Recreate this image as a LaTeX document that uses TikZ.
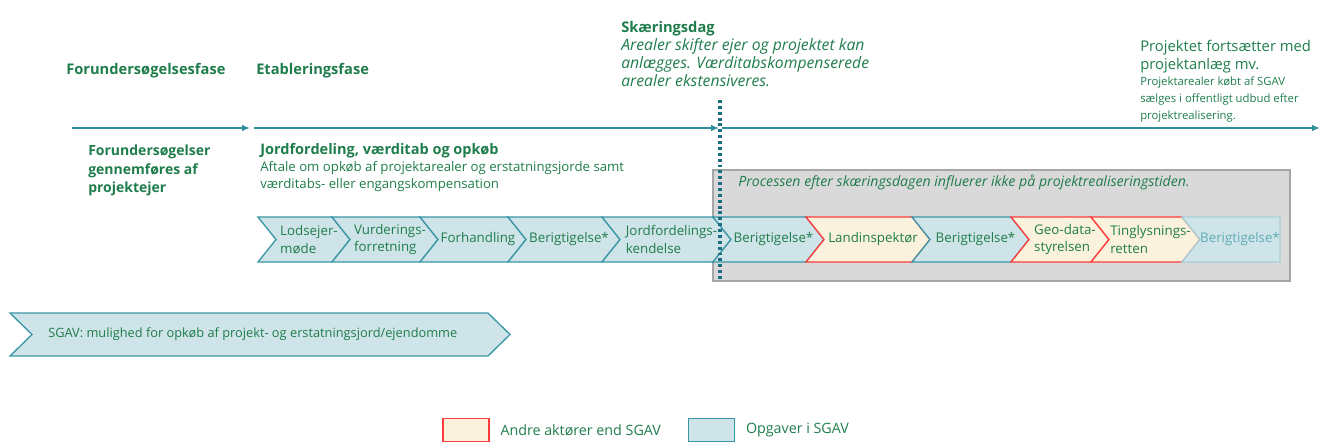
\documentclass[tikz,border=0pt]{standalone}
\usepackage{fontspec}
\setmainfont{Open Sans}
\usepackage{tikz}
\usetikzlibrary{arrows.meta, positioning}
\definecolor{PhaseGreen}{HTML}{1F7D4C}
\definecolor{LineTeal}{HTML}{2F8E9E}
\definecolor{CutTeal}{HTML}{1B6F82}
\definecolor{TaskFill}{HTML}{CFE4E8}
\definecolor{TaskDraw}{HTML}{3A97A6}
\definecolor{OtherDraw}{HTML}{FF3B3B}
\definecolor{OtherFill}{HTML}{FAF2DC}
\definecolor{BoxGray}{HTML}{D9D9D9}
\definecolor{BoxDraw}{HTML}{A6A6A6}
\tikzset{
  % Text styles
  phase/.style={anchor=west, inner sep=0pt, text=PhaseGreen, font=\fontsize{11}{13}\selectfont\bfseries},
  note/.style={anchor=north west, inner sep=0pt, align=left, text=PhaseGreen},
  tasktext/.style={inner sep=0pt, align=left, text=PhaseGreen, font=\fontsize{10}{13.2}\selectfont},
  % Shape styles
  taskchev/.style={draw=TaskDraw, fill=TaskFill, line width=1pt, line join=miter},
  otherchev/.style={draw=OtherDraw, fill=OtherFill, line width=1pt, line join=miter},
  fadechev/.style={draw=TaskDraw!45, fill=TaskFill, line width=1pt, line join=miter},
  legbox/.style={minimum width=34.5pt, minimum height=17.5pt, inner sep=0pt, line width=0.9pt},
  % Arrow styles
  timeline/.style={-{Latex[length=6pt,width=5pt]}, LineTeal, line width=1.1pt},
  cutline/.style={CutTeal, line width=2.4pt, dash pattern=on 2.2pt off 2.2pt}
}
% chevron: name, left x, tip x, shape style, text
\newcommand{\chev}[5]{%
  \draw[#4] (#2,217) -- (#3-18,217) -- (#3,239.5) -- (#3-18,262) -- (#2,262) -- (#2+18,239.5) -- cycle;
  \node[tasktext] (#1) at ({(#2+#3)/2+5},239.5) {#5};}
\begin{document}
\begin{tikzpicture}[x=0.75pt, y=-0.75pt]
  \useasboundingbox (0,0) rectangle (1320,442);

  % Phase headings
  \node[phase] (prephase) at (66,71) {Forundersøgelsesfase};
  \node[phase] (estphase) at (256,71) {Etableringsfase};

  % Timeline
  \coordinate (t0) at (72,128);
  \coordinate (t1) at (250,128);
  \coordinate (t2) at (254,128);
  \coordinate (t3) at (719,128);
  \coordinate (t4) at (722,128);
  \coordinate (t5) at (1320,128);
  \draw[timeline] (t0) -- (t1);
  \draw[timeline] (t2) -- (t3);
  \draw[timeline] (t4) -- (t5);

  % Skaeringsdag
  \node[note, font=\fontsize{11.8}{13.6}\selectfont] (cutday) at (621,21)
    {\textbf{\fontsize{11}{13.6}\selectfont Skæringsdag}\\
     \textit{Arealer skifter ejer og projektet kan}\\
     \textit{anlægges. Værditabskompenserede}\\
     \textit{arealer ekstensiveres.}};

  % Continuation
  \node[note, font=\fontsize{11.1}{13.6}\selectfont] (cont) at (1140,40)
    {Projektet fortsætter med\\projektanlæg mv.};
  \node[note, font=\fontsize{8.5}{12.7}\selectfont, below=2pt of cont.south west, anchor=north west] (contsub)
    {Projektarealer købt af SGAV\\sælges i offentligt udbud efter\\projektrealisering.};

  % Phase descriptions
  \node[note, font=\fontsize{10.5}{13.8}\selectfont\bfseries] (predesc) at (88,145)
    {Forundersøgelser\\gennemføres af\\projektejer};
  \node[note, font=\fontsize{10.9}{13}\selectfont\bfseries] (estdesc) at (260,143)
    {Jordfordeling, værditab og opkøb};
  \node[note, font=\fontsize{9.9}{12.8}\selectfont, below=2.5pt of estdesc.south west, anchor=north west] (estsub)
    {Aftale om opkøb af projektarealer og erstatningsjorde samt\\værditabs- eller engangskompensation};

  % Process after the cut-off day
  \draw[fill=BoxGray, draw=BoxDraw, line width=1pt] (713,170) rectangle (1290,281);
  \node[note, font=\fontsize{10.6}{12}\selectfont\itshape] (afternote) at (738,175)
    {Processen efter skæringsdagen influerer ikke på projektrealiseringstiden.};

  % Chevron row
  \chev{lods}{258}{350}{taskchev}{Lodsejer-\\møde}
  \chev{vurd}{332}{438}{taskchev}{Vurderings-\\forretning}
  \chev{forh}{420}{526}{taskchev}{Forhandling}
  \chev{berA}{508}{620}{taskchev}{Berigtigelse*}
  \chev{jord}{602}{731}{taskchev}{Jordfordelings-\\kendelse}
  \chev{berB}{713}{824}{taskchev}{Berigtigelse*}
  \chev{land}{806}{930}{otherchev}{Landinspektør}
  \chev{berC}{912}{1029}{taskchev}{Berigtigelse*}
  \chev{geo}{1011}{1109}{otherchev}{Geo-data-\\styrelsen}
  \chev{ting}{1091}{1200}{otherchev}{Tinglysnings-\\retten}
  \draw[fadechev] (1182,217) -- (1280,217) -- (1280,262) -- (1182,262) -- (1200,239.5) -- cycle;
  \node[tasktext, text=TaskDraw!80] (berD) at (1240,239.5) {Berigtigelse*};

  % Cut-off day marker
  \coordinate (cuttop) at (720,100);
  \coordinate (cutbot) at (720,279);
  \draw[cutline] (cuttop) -- (cutbot);

  % SGAV purchase option
  \draw[taskchev] (10,313) -- (488,313) -- (510,334.5) -- (488,356) -- (10,356) -- (32,334.5) -- cycle;
  \node[tasktext, anchor=west, font=\fontsize{9.6}{12}\selectfont] (sgav) at (48,334.5)
    {SGAV: mulighed for opkøb af projekt- og erstatningsjord/ejendomme};

  % Legend
  \node[legbox, draw=OtherDraw, fill=OtherFill] (legother) at (466,430) {};
  \node[phase, font=\fontsize{10.7}{12}\selectfont, right=8pt of legother] (legothertxt) {Andre aktører end SGAV};
  \node[legbox, draw=TaskDraw, fill=TaskFill] (legtask) at (711.5,430) {};
  \node[phase, font=\fontsize{10.7}{12}\selectfont, right=8pt of legtask] (legtasktxt) {Opgaver i SGAV};
\end{tikzpicture}
\end{document}
